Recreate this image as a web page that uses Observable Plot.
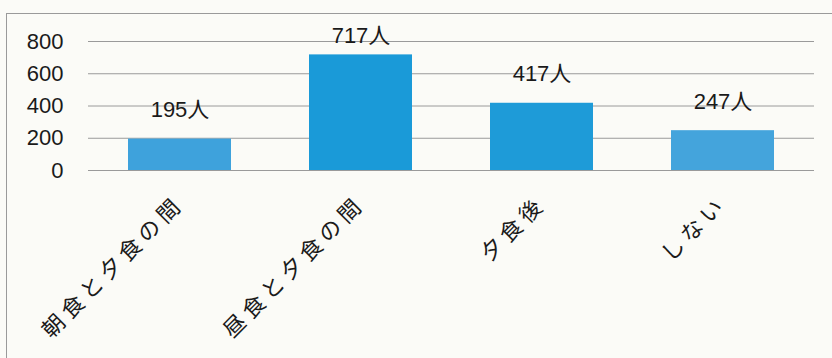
<!DOCTYPE html>
<html>
<head>
<meta charset="utf-8">
<script src="https://cdn.jsdelivr.net/npm/d3@7"></script>
<script src="https://cdn.jsdelivr.net/npm/@observablehq/plot@0.6"></script>
<style>
  html, body { margin: 0; padding: 0; background: #fbfbf7; width: 832px; height: 358px; overflow: hidden; }
  #frame { position: absolute; left: 6px; top: 13px; width: 900px; height: 400px;
           border-left: 1px solid #9a9a9a; border-top: 1px solid #9a9a9a; }
  #chart { position: absolute; left: 0; top: 0; }
  #chart g[aria-label="x-axis tick label"] text { letter-spacing: 5px; }
</style>
</head>
<body>
<div id="frame"></div>
<div id="chart"></div>
<script>
const categories = ["朝食と夕食の間", "昼食と夕食の間", "夕食後", "しない"];
const values = [195, 717, 417, 247];
const yTicks = [0, 200, 400, 600, 800];
const unit = "人";

const barColors = ["#3ea2dc", "#1a9ad8", "#1e9bd8", "#44a4dc"];

const data = categories.map((c, i) => ({category: c, value: values[i], label: values[i] + unit}));

const numFont = "'Liberation Sans', 'Noto Sans CJK JP', sans-serif";
const jpFont = "'Noto Sans CJK JP', sans-serif";

const plot = Plot.plot({
  width: 832,
  height: 358,
  marginLeft: 88,
  marginRight: 18,
  marginTop: 41,
  marginBottom: 188,
  style: {background: "transparent", fontFamily: numFont, color: "#1a1a1a"},
  x: {domain: categories, paddingInner: 0.43, paddingOuter: 0.215, label: null},
  y: {domain: [0, 800], label: null},
  color: {domain: categories, range: barColors},
  marks: [
    Plot.gridY(yTicks, {stroke: "#9a9a9a", strokeOpacity: 1, strokeWidth: 1}),
    Plot.barY(data, {x: "category", y: "value", fill: "category"}),
    Plot.axisY(yTicks, {tickSize: 0, tickPadding: 25, fontSize: 22, fontFamily: numFont, fill: "#1a1a1a", label: null}),
    Plot.axisX({tickSize: 0, tickRotate: -45, tickPadding: 30, fontSize: 22, fontFamily: jpFont, fill: "#1a1a1a", label: null}),
    Plot.text(data.filter(d => d.value < 700), {x: "category", y: "value", text: "label", dy: -29, fontSize: 22, fontFamily: numFont, fill: "#1a1a1a"}),
    Plot.text(data.filter(d => d.value >= 700), {x: "category", y: "value", text: "label", dy: -19, fontSize: 22, fontFamily: numFont, fill: "#1a1a1a"})
  ]
});
document.getElementById("chart").appendChild(plot);
</script>
</body>
</html>
